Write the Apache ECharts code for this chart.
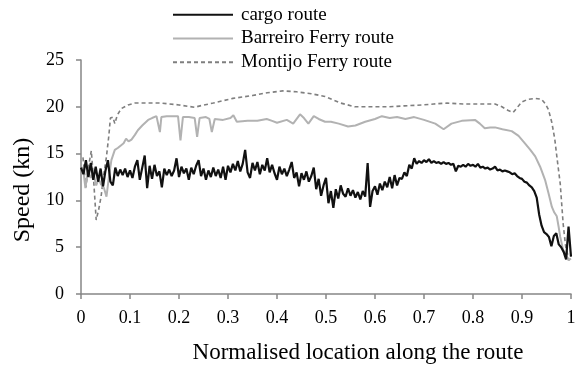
<!DOCTYPE html>
<html>
<head>
<meta charset="utf-8">
<script src="https://cdn.jsdelivr.net/npm/echarts@6/dist/echarts.min.js"></script>
<style>html,body{margin:0;padding:0;background:#fff}#c{width:580px;height:365px}</style>
</head>
<body>
<div id="c"></div>
<script>
var seriesNames = ['cargo route', 'Barreiro Ferry route', 'Montijo Ferry route'];
var xTicks = [0, 0.1, 0.2, 0.3, 0.4, 0.5, 0.6, 0.7, 0.8, 0.9, 1];
var yTicks = [0, 5, 10, 15, 20, 25];

var cargo = [
[0.000,13.5],[0.005,12.8],[0.010,14.3],[0.015,12.5],[0.020,14.0],[0.025,12.2],[0.030,13.6],[0.035,12.0],[0.040,13.4],[0.045,11.5],
[0.050,13.2],[0.055,14.3],[0.060,12.0],[0.065,11.6],[0.070,13.5],[0.075,12.6],[0.080,13.3],[0.085,12.7],[0.090,13.4],[0.095,12.5],
[0.100,13.2],[0.105,12.4],[0.110,13.6],[0.115,14.3],[0.120,12.2],[0.125,13.5],[0.130,14.8],[0.135,11.3],[0.140,13.7],[0.145,12.3],
[0.150,13.8],[0.155,12.6],[0.160,13.1],[0.165,11.4],[0.170,13.4],[0.175,12.7],[0.180,13.3],[0.185,12.6],[0.190,13.2],[0.195,14.5],
[0.200,12.5],[0.205,13.6],[0.210,12.9],[0.215,13.4],[0.220,12.2],[0.225,13.5],[0.230,12.8],[0.235,13.7],[0.240,14.3],[0.245,12.6],
[0.250,13.4],[0.255,12.2],[0.260,13.2],[0.265,12.5],[0.270,13.5],[0.275,12.6],[0.280,13.3],[0.285,12.4],[0.290,13.6],[0.295,12.2],
[0.300,13.7],[0.305,13.0],[0.310,13.9],[0.315,13.2],[0.320,14.2],[0.325,13.1],[0.330,13.9],[0.335,15.4],[0.340,13.0],[0.345,12.4],
[0.350,14.0],[0.355,13.2],[0.360,14.1],[0.365,12.8],[0.370,13.8],[0.375,13.2],[0.380,14.5],[0.385,13.0],[0.390,13.8],[0.395,12.9],
[0.400,12.2],[0.405,13.6],[0.410,12.8],[0.415,13.4],[0.420,12.6],[0.425,13.3],[0.430,14.1],[0.435,12.4],[0.440,13.0],[0.445,11.5],
[0.450,12.9],[0.455,12.2],[0.460,13.1],[0.465,12.0],[0.470,12.6],[0.475,13.5],[0.480,11.2],[0.485,12.3],[0.490,10.5],[0.495,11.6],
[0.500,12.4],[0.505,9.7],[0.510,11.0],[0.515,9.2],[0.520,11.2],[0.525,10.2],[0.530,11.6],[0.535,10.7],[0.540,10.4],[0.545,11.3],
[0.550,10.5],[0.555,11.1],[0.560,10.3],[0.565,10.9],[0.570,10.1],[0.575,11.0],[0.580,10.4],[0.585,14.0],[0.590,9.3],[0.595,11.0],
[0.600,11.5],[0.605,10.6],[0.610,11.8],[0.615,11.1],[0.620,12.0],[0.625,11.4],[0.630,12.5],[0.635,11.3],[0.640,12.7],[0.645,11.6],
[0.650,12.4],[0.655,12.3],[0.660,13.0],[0.665,12.6],[0.670,13.8],[0.675,13.4],[0.680,14.5],[0.685,13.9],[0.690,14.2],[0.695,14.0],
[0.700,14.3],[0.705,14.1],[0.710,14.4],[0.715,14.0],[0.720,14.2],[0.725,14.0],[0.730,14.1],[0.735,13.9],[0.740,14.1],[0.745,13.9],
[0.750,14.0],[0.755,13.8],[0.760,13.9],[0.765,13.1],[0.770,13.7],[0.775,13.6],[0.780,13.8],[0.785,13.6],[0.790,13.9],[0.795,13.7],
[0.800,13.8],[0.805,13.6],[0.810,13.9],[0.815,13.5],[0.820,13.6],[0.825,13.4],[0.830,13.5],[0.835,13.3],[0.840,13.4],[0.845,13.6],
[0.850,13.2],[0.855,13.3],[0.860,13.1],[0.865,13.2],[0.870,13.1],[0.875,13.0],[0.880,12.8],[0.885,12.9],[0.890,12.6],[0.895,12.4],
[0.900,12.3],[0.905,12.0],[0.910,11.9],[0.915,11.6],[0.920,11.4],[0.925,11.0],[0.930,10.3],[0.935,8.5],[0.940,7.3],[0.945,6.6],
[0.950,6.4],[0.955,6.1],[0.960,5.1],[0.965,6.2],[0.970,6.5],[0.975,5.3],[0.980,5.0],[0.985,4.5],[0.990,3.7],[0.995,7.2],[1.000,4.0]
];

var barreiro = [
[0.004,13.6],[0.009,11.3],[0.014,13.2],[0.020,12.4],[0.025,13.0],[0.031,11.6],[0.036,12.3],[0.041,11.7],[0.047,11.3],[0.052,10.4],
[0.057,12.5],[0.062,14.3],[0.069,15.4],[0.075,15.6],[0.082,15.9],[0.087,16.1],[0.092,16.6],[0.097,16.3],[0.103,16.5],[0.110,17.0],
[0.116,17.5],[0.125,18.0],[0.137,18.6],[0.145,18.8],[0.154,19.0],[0.158,18.9],[0.161,17.3],[0.164,18.9],[0.175,19.0],[0.198,19.0],
[0.203,16.4],[0.208,18.9],[0.220,18.9],[0.232,18.8],[0.237,16.8],[0.242,18.8],[0.255,18.9],[0.262,18.7],[0.267,17.3],[0.273,18.7],
[0.290,18.6],[0.305,18.8],[0.311,19.1],[0.318,18.4],[0.340,18.5],[0.360,18.5],[0.379,18.7],[0.390,18.5],[0.400,18.3],[0.420,18.6],
[0.433,18.2],[0.447,19.2],[0.455,18.8],[0.464,18.2],[0.475,19.0],[0.485,18.7],[0.498,18.4],[0.510,18.4],[0.526,18.2],[0.545,17.9],
[0.560,18.0],[0.580,18.4],[0.600,18.7],[0.614,19.0],[0.630,18.8],[0.645,18.9],[0.662,18.7],[0.680,18.9],[0.700,18.6],[0.723,18.2],
[0.740,17.6],[0.756,18.2],[0.777,18.5],[0.804,18.6],[0.814,18.2],[0.824,17.7],[0.835,17.8],[0.845,17.8],[0.860,17.6],[0.879,17.4],
[0.893,16.9],[0.906,16.1],[0.917,15.4],[0.927,14.7],[0.937,13.6],[0.947,12.2],[0.954,10.8],[0.961,9.3],[0.966,8.7],[0.971,8.3],
[0.975,7.1],[0.978,6.1],[0.984,4.7],[0.990,4.2],[0.995,3.6],[1.000,3.8]
];

var montijo = [
[0.004,14.6],[0.010,11.4],[0.015,13.5],[0.021,15.3],[0.026,12.0],[0.031,7.9],[0.036,9.0],[0.041,10.4],[0.046,12.6],[0.052,14.7],
[0.057,17.0],[0.060,18.8],[0.065,18.9],[0.069,18.2],[0.074,19.1],[0.082,19.8],[0.096,20.2],[0.110,20.4],[0.130,20.4],[0.163,20.4],
[0.200,20.2],[0.232,19.95],[0.243,20.1],[0.270,20.4],[0.310,20.9],[0.350,21.2],[0.380,21.5],[0.412,21.7],[0.440,21.6],[0.470,21.4],
[0.498,21.1],[0.530,20.4],[0.559,20.0],[0.590,20.0],[0.628,20.0],[0.660,20.1],[0.696,20.2],[0.720,20.3],[0.747,20.4],[0.780,20.3],
[0.810,20.3],[0.845,20.3],[0.859,20.0],[0.872,19.6],[0.882,19.4],[0.890,19.9],[0.899,20.5],[0.912,20.8],[0.927,20.9],[0.940,20.8],
[0.948,20.3],[0.954,19.7],[0.961,18.3],[0.967,16.5],[0.972,14.3],[0.978,11.8],[0.984,7.5],[0.989,5.1],[0.996,3.6],[1.000,4.2]
];

var font = '"Liberation Serif", "Times New Roman", serif';
var axisGray = '#868686';
var chart = echarts.init(document.getElementById('c'), null, {renderer: 'canvas'});
chart.setOption({
  animation: false,
  backgroundColor: '#fff',
  grid: {left: 81, right: 9, top: 60, bottom: 71, containLabel: false, outerBoundsMode: 'none'},
  legend: {
    orient: 'vertical', left: 172, top: 4.8, padding: 0,
    itemWidth: 60, itemHeight: 20, itemGap: 3.7,
    itemStyle: {opacity: 0},
    textStyle: {fontFamily: font, fontSize: 19, color: '#000', lineHeight: 20, padding: [0, 0, 0, 3]},
    data: seriesNames
  },
  xAxis: {
    type: 'value', min: 0, max: 1, interval: 0.1,
    name: 'Normalised location along the route', nameLocation: 'middle', nameGap: 47,
    nameTextStyle: {fontFamily: font, fontSize: 23, color: '#000', padding: [0, 0, 0, 64]},
    axisLine: {show: true, lineStyle: {color: axisGray, width: 1.5}},
    axisTick: {show: true, length: 5, lineStyle: {color: axisGray, width: 1.5}},
    axisLabel: {fontFamily: font, fontSize: 18, color: '#000', margin: 15,
      formatter: function (v) { var t = xTicks.find(function (k) { return Math.abs(k - v) < 1e-9; }); return t === undefined ? '' : String(t); }},
    splitLine: {show: false}
  },
  yAxis: {
    type: 'value', min: 0, max: 25, interval: 5,
    name: 'Speed (kn)', nameLocation: 'middle', nameGap: 44, nameRotate: 90,
    nameTextStyle: {fontFamily: font, fontSize: 24, color: '#000', padding: [0, 26, 0, 0]},
    axisLine: {show: true, lineStyle: {color: axisGray, width: 1.5}},
    axisTick: {show: true, length: 5, lineStyle: {color: axisGray, width: 1.5}},
    axisLabel: {fontFamily: font, fontSize: 18, color: '#000', margin: 17,
      formatter: function (v) { return yTicks.indexOf(v) >= 0 ? String(v) : ''; }},
    splitLine: {show: false}
  },
  series: [
    {name: seriesNames[0], type: 'line', data: cargo, symbol: 'none', z: 4,
     lineStyle: {color: '#111', width: 2.2}, itemStyle: {color: '#111'}},
    {name: seriesNames[1], type: 'line', data: barreiro, symbol: 'none', z: 3,
     lineStyle: {color: '#b2b2b2', width: 2}, itemStyle: {color: '#b2b2b2'}},
    {name: seriesNames[2], type: 'line', data: montijo, symbol: 'none', z: 2,
     lineStyle: {color: '#7f7f7f', width: 1.6, type: [4, 3]}, itemStyle: {color: '#7f7f7f'}}
  ]
});
</script>
</body>
</html>
